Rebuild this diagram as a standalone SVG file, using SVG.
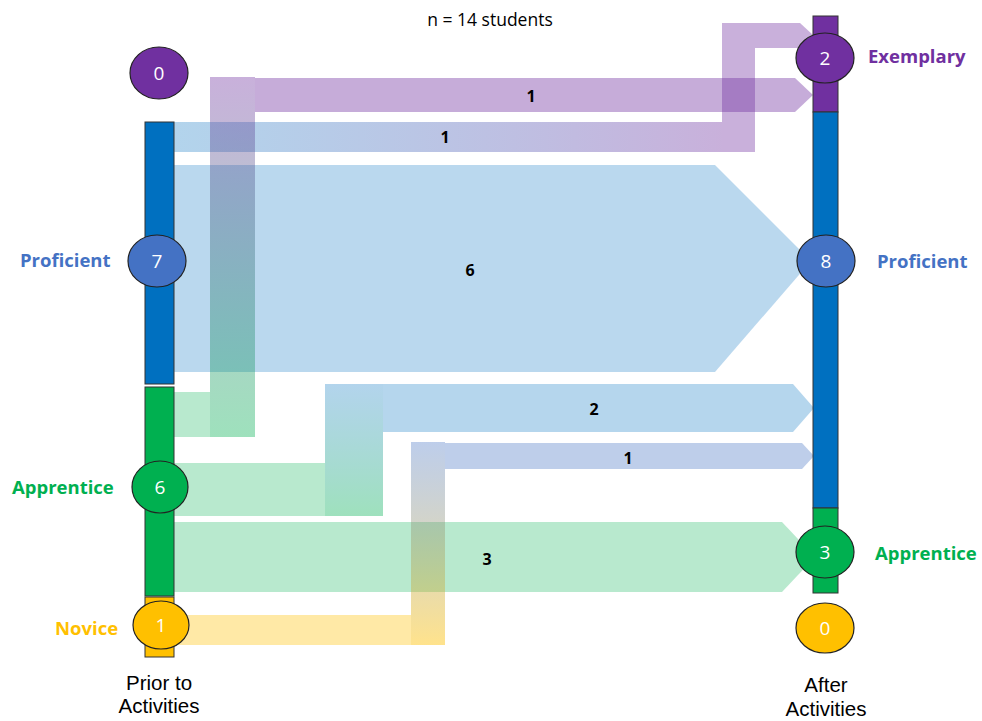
<svg xmlns="http://www.w3.org/2000/svg" width="982" height="721" viewBox="0 0 982 721">
<style>
  .t{font-family:"Open Sans","Liberation Sans",Arial,sans-serif}
  .ax{font-family:"Liberation Sans",Arial,sans-serif;font-size:20.5px;fill:#000;text-anchor:middle}
  .lbl{font-family:"Open Sans","Liberation Sans",Arial,sans-serif;font-weight:bold;font-size:18.5px}
  .num{font-family:"Open Sans","Liberation Sans",Arial,sans-serif;font-size:19px;fill:#fff;text-anchor:middle}
  .flab{font-family:"Open Sans","Liberation Sans",Arial,sans-serif;font-weight:bold;font-size:16px;fill:#000;text-anchor:middle}
  .seg{stroke:#333;stroke-width:1}
  .el{stroke:#222;stroke-width:1.2}
</style>
<defs>
  <linearGradient id="gBP" x1="0" y1="0" x2="1" y2="0">
    <stop offset="0" stop-color="#0070C0" stop-opacity="0.3"/>
    <stop offset="1" stop-color="#7030A0" stop-opacity="0.38"/>
  </linearGradient>
  <linearGradient id="gPG" x1="0" y1="0" x2="0" y2="1">
    <stop offset="0" stop-color="#7030A0" stop-opacity="0.38"/>
    <stop offset="1" stop-color="#00B050" stop-opacity="0.38"/>
  </linearGradient>
  <linearGradient id="gBG" x1="0" y1="0" x2="0" y2="1">
    <stop offset="0" stop-color="#0070C0" stop-opacity="0.3"/>
    <stop offset="1" stop-color="#00B050" stop-opacity="0.38"/>
  </linearGradient>
  <linearGradient id="gLY" x1="0" y1="0" x2="0" y2="1">
    <stop offset="0" stop-color="#4472C4" stop-opacity="0.35"/>
    <stop offset="1" stop-color="#FFC000" stop-opacity="0.45"/>
  </linearGradient>
</defs>

<text class="t" x="490" y="26" font-size="17.5" text-anchor="middle" fill="#000">n = 14 students</text>

<g id="connectors">
  <g id="flow-prof-prof">
    <polygon points="174,165 715,165 811,261 715,372 174,372" fill="#0070C0" fill-opacity="0.27"/>
    <text class="flab" x="470" y="276">6</text>
  </g>
  <g id="flow-app-app">
    <polygon points="174,522 782,522 815,557 782,592 174,592" fill="#00B050" fill-opacity="0.28"/>
    <text class="flab" x="487" y="565">3</text>
  </g>
  <g id="flow-prof-exem">
    <rect x="174" y="122" width="548" height="30" fill="url(#gBP)"/>
    <rect x="722" y="23" width="33" height="129" fill="#7030A0" fill-opacity="0.38"/>
    <polygon points="755,23 800,23 813,35 800,48 755,48" fill="#7030A0" fill-opacity="0.38"/>
    <text class="flab" x="445" y="143">1</text>
  </g>
  <g id="flow-app-prof">
    <rect x="174" y="463" width="151" height="53" fill="#00B050" fill-opacity="0.28"/>
    <rect x="325" y="384" width="58" height="132" fill="url(#gBG)"/>
    <polygon points="383,384 793,384 814,408 793,432 383,432" fill="#0070C0" fill-opacity="0.29"/>
    <text class="flab" x="594" y="415">2</text>
  </g>
  <g id="flow-nov-prof">
    <rect x="174" y="615" width="237" height="30" fill="#FFC000" fill-opacity="0.35"/>
    <rect x="411" y="442" width="34" height="203" fill="url(#gLY)"/>
    <polygon points="445,443 802,443 814,456 802,469 445,469" fill="#4472C4" fill-opacity="0.35"/>
    <text class="flab" x="628" y="464">1</text>
  </g>
  <g id="flow-app-exem">
    <rect x="174" y="392" width="36" height="45" fill="#00B050" fill-opacity="0.28"/>
    <rect x="210" y="77" width="45" height="360" fill="url(#gPG)"/>
    <polygon points="255,78 795,78 813,95 795,112 255,112" fill="#7030A0" fill-opacity="0.4"/>
    <text class="flab" x="531" y="102">1</text>
  </g>
</g>

<g id="prior-column">
  <rect class="seg" x="145" y="122" width="29" height="262" fill="#0070C0"/>
  <rect class="seg" x="145" y="387" width="29" height="209" fill="#00B050"/>
  <rect class="seg" x="145" y="597" width="29" height="60" fill="#FFC000"/>
</g>
<g id="after-column">
  <rect class="seg" x="813" y="16" width="25" height="96" fill="#7030A0"/>
  <rect class="seg" x="813" y="112" width="25" height="396" fill="#0070C0"/>
  <rect class="seg" x="813" y="508" width="25" height="85" fill="#00B050"/>
</g>

<g id="prior-exemplary">
  <ellipse class="el" cx="159" cy="73" rx="29" ry="26" fill="#7030A0"/>
  <text class="num" x="159" y="80">0</text>
</g>
<g id="prior-proficient">
  <ellipse class="el" cx="157" cy="261" rx="29" ry="26" fill="#4472C4"/>
  <text class="num" x="157" y="268">7</text>
  <text class="lbl" x="20" y="267" fill="#4472C4">Proficient</text>
</g>
<g id="prior-apprentice">
  <ellipse class="el" cx="160" cy="487" rx="28" ry="26" fill="#00B050"/>
  <text class="num" x="160" y="494">6</text>
  <text class="lbl" x="12" y="494" fill="#00B050">Apprentice</text>
</g>
<g id="prior-novice">
  <ellipse class="el" cx="161" cy="625" rx="28" ry="24" fill="#FFC000"/>
  <text class="num" x="161" y="632">1</text>
  <text class="lbl" x="55" y="635" fill="#FFC000">Novice</text>
</g>

<g id="after-exemplary">
  <ellipse class="el" cx="825" cy="58" rx="29" ry="25" fill="#7030A0"/>
  <text class="num" x="825" y="65">2</text>
  <text class="lbl" x="868" y="63" fill="#7030A0">Exemplary</text>
</g>
<g id="after-proficient">
  <ellipse class="el" cx="826" cy="261" rx="29" ry="26" fill="#4472C4"/>
  <text class="num" x="826" y="268">8</text>
  <text class="lbl" x="877" y="268" fill="#4472C4">Proficient</text>
</g>
<g id="after-apprentice">
  <ellipse class="el" cx="825" cy="552" rx="29" ry="26" fill="#00B050"/>
  <text class="num" x="825" y="559">3</text>
  <text class="lbl" x="875" y="560" fill="#00B050">Apprentice</text>
</g>
<g id="after-novice">
  <ellipse class="el" cx="825" cy="628" rx="29" ry="25" fill="#FFC000"/>
  <text class="num" x="825" y="635">0</text>
</g>

<g id="axis-labels">
  <text class="ax" x="159" y="690">Prior to</text>
  <text class="ax" x="159" y="713">Activities</text>
  <text class="ax" x="826" y="692">After</text>
  <text class="ax" x="826" y="716">Activities</text>
</g>
</svg>
